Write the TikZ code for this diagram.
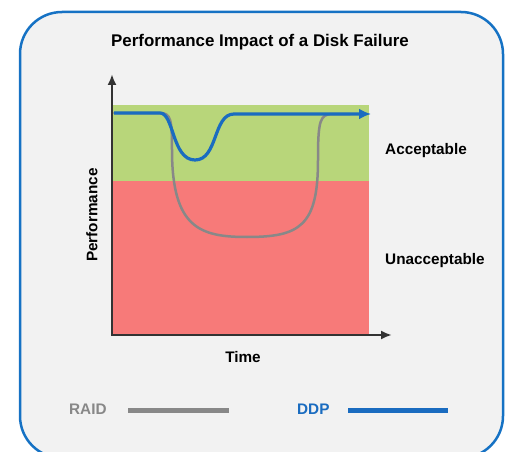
\documentclass[tikz,border=0pt]{standalone}
\usepackage{fontspec}
\setmainfont{Liberation Sans}
\usetikzlibrary{arrows.meta}
\definecolor{frameblue}{RGB}{22,114,196}
\definecolor{panelgray}{RGB}{242,242,242}
\definecolor{okgreen}{RGB}{184,214,122}
\definecolor{badred}{RGB}{247,122,121}
\definecolor{raidgray}{RGB}{136,136,136}
\definecolor{ddpblue}{RGB}{26,108,192}
\definecolor{axisgray}{RGB}{51,51,51}
\tikzset{
	lbl/.style={font=\fontsize{15.3}{17}\selectfont\bfseries, inner sep=0pt},
	axisline/.style={axisgray, line width=2.2pt, -{Latex[length=11pt,width=9pt]}},
	raidline/.style={raidgray, line width=2.5pt},
	ddpline/.style={ddpblue, line width=3.2pt},
}

\begin{document}
\begin{tikzpicture}[x=1pt,y=-1pt]
		%%%%% START %%%%%
		\useasboundingbox (0,0) rectangle (509,452);
		\draw[frameblue, line width=2.5pt, fill=panelgray, rounded corners=42pt] (20,12) rectangle (503,458);
		
		\node[lbl, font=\fontsize{16.9}{19}\selectfont\bfseries] (title) at (260,42) {Performance Impact of a Disk Failure};
		
		% bands
		\fill[okgreen] (113,105) rectangle (369,181);
		\fill[badred] (113,181) rectangle (369,334);
		
		% axes
		\coordinate (origin) at (112,335);
		\coordinate (ytop) at (112,74);
		\coordinate (xend) at (392,335);
		\draw[axisline] (origin) -- (ytop);
		\draw[axisline] ([xshift=-1.1pt]origin) -- (xend);
		
		% RAID curve
		\draw[raidline, line cap=round] (114,113) -- (160,113) .. controls (171,113) and (172,120) .. (172,150)
			.. controls (172,228) and (200,237) .. (247,237)
			.. controls (300,237) and (318,226) .. (318,160)
			.. controls (318,120) and (320,114) .. (333,114) -- (350,114);
		
		% DDP curve
		\draw[ddpline, -{Latex[length=12pt,width=11pt]}] (114,113) -- (160,113)
			.. controls (174,113) and (172,160) .. (195,160)
			.. controls (218,160) and (213,114) .. (234,114) -- (371,114);
		
		\node[lbl, anchor=west] (ok) at (385,151) {Acceptable};
		\node[lbl, anchor=west] (bad) at (385,261) {Unacceptable};
		\node[lbl, rotate=90] (perf) at (92,215) {Performance};
		\node[lbl] (time) at (243,357) {Time};
		
		% legend
		\node[lbl, raidgray, anchor=west] (raid) at (69,409) {RAID};
		\coordinate (raidA) at (128,410);
		\coordinate (raidB) at (229,410);
		\draw[raidgray, line width=5pt] (raidA) -- (raidB);
		\node[lbl, ddpblue, anchor=west] (ddp) at (297,409) {DDP};
		\coordinate (ddpA) at (348,410);
		\coordinate (ddpB) at (448,410);
		\draw[ddpblue, line width=5pt] (ddpA) -- (ddpB);
		%%%%% END %%%%%
	\end{tikzpicture}
\end{document}
